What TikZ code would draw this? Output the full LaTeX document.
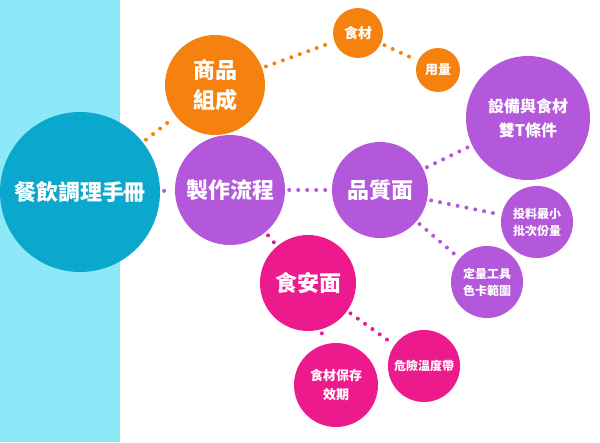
\documentclass[tikz,border=0pt]{standalone}
\usepackage{fontspec}
\newfontfamily\cjk{Noto Sans CJK TC}
\definecolor{bandcyan}{HTML}{8DE8F7}
\definecolor{maincyan}{HTML}{0AA8CC}
\definecolor{orng}{HTML}{F5820F}
\definecolor{purp}{HTML}{B357DB}
\definecolor{mag}{HTML}{EC1A8C}
\tikzset{
  bub/.style={circle, fill=#1, text=white, align=center, inner sep=0pt, font=\cjk\bfseries},
  dots/.style={draw=#1, line width=4pt, line cap=round, dash pattern=on 0pt off 9pt, shorten >=4pt, shorten <=4pt}
}
\begin{document}
\begin{tikzpicture}[x=1pt,y=-1pt]
	\useasboundingbox (0,0) rectangle (600,442);
	\fill [white] (0,0) rectangle (600,442);
	\fill [bandcyan] (0,0) rectangle (120,442);
	% bubbles
	\node [bub=maincyan, minimum size=160pt, font=\cjk\bfseries\fontsize{22}{26}\selectfont] (manual) at (80,192) {餐飲調理手冊};
	\node [bub=orng, minimum size=100pt, font=\cjk\bfseries\fontsize{22}{30}\selectfont] (product) at (215,85) {商品\\組成};
	\node [bub=orng, minimum size=50pt, font=\cjk\bfseries\fontsize{14}{16}\selectfont] (food) at (358,33) {食材};
	\node [bub=orng, minimum size=44pt, font=\cjk\bfseries\fontsize{13}{16}\selectfont] (amount) at (438,70) {用量};
	\node [bub=purp, minimum size=110pt, font=\cjk\bfseries\fontsize{22}{26}\selectfont] (process) at (230,190) {製作流程};
	\node [bub=purp, minimum size=96pt, font=\cjk\bfseries\fontsize{22}{26}\selectfont] (quality) at (380,190) {品質面};
	\node [bub=purp, minimum size=124pt, font=\cjk\bfseries\fontsize{16}{24}\selectfont] (equip) at (528,118) {設備與食材\\雙T條件};
	\node [bub=purp, minimum size=72pt, font=\cjk\bfseries\fontsize{12}{17}\selectfont] (batch) at (537,222) {投料最小\\批次份量};
	\node [bub=purp, minimum size=72pt, font=\cjk\bfseries\fontsize{12}{17}\selectfont] (tool) at (487,282) {定量工具\\色卡範圍};
	\node [bub=mag, minimum size=96pt, font=\cjk\bfseries\fontsize{22}{26}\selectfont] (safety) at (308,283) {食安面};
	\node [bub=mag, minimum size=84pt, font=\cjk\bfseries\fontsize{13}{19}\selectfont] (shelf) at (336,385) {食材保存\\效期};
	\node [bub=mag, minimum size=72pt, font=\cjk\bfseries\fontsize{12}{16}\selectfont] (danger) at (424,366) {危險溫度帶};
	% connectors
	\draw [dots=orng] (manual) -- (product);
	\draw [dots=orng] (product) -- (food);
	\draw [dots=orng] (food) -- (amount);
	\draw [dots=purp] (manual) -- (process);
	\draw [dots=purp] (process) -- (quality);
	\draw [dots=purp] (quality) -- (equip);
	\draw [dots=purp] (quality) -- (batch);
	\draw [dots=purp] (quality) -- (tool);
	\draw [dots=mag] (process) -- (safety);
	\draw [dots=mag] (safety) -- (shelf);
	\draw [dots=mag] (safety) -- (danger);
\end{tikzpicture}
\end{document}
